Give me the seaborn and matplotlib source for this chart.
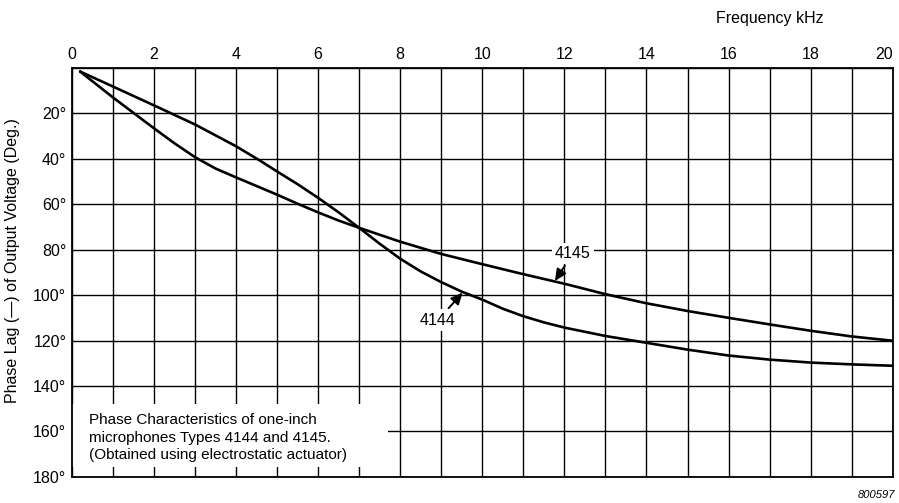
import pandas as pd
import matplotlib.pyplot as plt
import seaborn as sns
from matplotlib.patches import Rectangle

# Phase lag (kHz, degrees)
freq_4144 = [0.2, 1, 2, 3, 4, 4.6, 5, 5.5, 6, 6.5, 7, 7.5, 8, 8.5, 9, 9.5, 10, 10.5, 11, 11.5,
             12, 13, 14, 15, 16, 17, 18, 19, 20]
lag_4144 = [1.6, 8.2, 16.5, 24.9, 34.5, 41, 45.6, 51.2, 57.2, 63.6, 70.4, 77.4, 84, 89.6,
            94.3, 98.5, 102, 106, 109.3, 112, 114.3, 118, 121, 124, 126.6, 128.4, 129.7,
            130.5, 131.1]

freq_4145 = [0.2, 1, 2, 2.5, 3, 3.5, 4, 4.5, 5, 5.5, 6, 6.5, 7, 8, 9, 10, 11, 12, 13, 14,
             15, 16, 17, 18, 19, 20]
lag_4145 = [1.6, 13, 26.6, 33.2, 39.3, 44.3, 48.2, 52, 55.8, 59.8, 63.6, 67.2, 70.4, 76.5,
            81.9, 86.4, 90.8, 95, 99.6, 103.6, 107, 110, 112.9, 115.7, 118.2, 120.1]

x_ticks = list(range(0, 21))
x_labels = [str(v) if v % 2 == 0 else "" for v in x_ticks]
y_ticks = list(range(0, 181, 20))
y_labels = ["" if v == 0 else f"{v}°" for v in y_ticks]

note = ("Phase Characteristics of one-inch\n"
        "microphones Types 4144 and 4145.\n"
        "(Obtained using electrostatic actuator)")

sns.set_style("white")
plt.rcParams["font.family"] = ["Liberation Sans", "DejaVu Sans"]
plt.rcParams["text.color"] = "black"
plt.rcParams["axes.labelcolor"] = "black"

fig = plt.figure(figsize=(8.99, 5.03), dpi=100)
ax = fig.add_axes([0.080, 0.052, 0.913, 0.813])

sns.lineplot(x=freq_4144, y=lag_4144, color="black", lw=1.9, ax=ax, zorder=3)
sns.lineplot(x=freq_4145, y=lag_4145, color="black", lw=1.9, ax=ax, zorder=3)

ax.set_xlim(0, 20)
ax.set_ylim(180, 0)
ax.xaxis.tick_top()
ax.set_xticks(x_ticks)
ax.set_xticklabels(x_labels, fontsize=11.5, color="black")
ax.get_xticklabels()[-1].set_horizontalalignment("right")
ax.get_xticklabels()[-1].set_x(20.1)
ax.set_yticks(y_ticks)
ax.set_yticklabels(y_labels, fontsize=11.5, color="black")
ax.tick_params(length=0, pad=4)
ax.set_axisbelow(True)
ax.grid(True, color="black", lw=1.0)
for s in ax.spines.values():
    s.set_color("black")
    s.set_linewidth(1.3)

ax.set_xlabel("")
ax.set_ylabel("Phase Lag (—) of Output Voltage (Deg.)", fontsize=11.5)
ax.yaxis.set_label_coords(-0.063, 0.53)

# white box for the caption, hides the grid behind it
ax.add_patch(Rectangle((0, 148), 7.7, 27.5, facecolor="white", edgecolor="none", zorder=1))
ax.text(0.42, 162.7, note, fontsize=11, va="center", ha="left", linespacing=1.28, zorder=4)

arrow = dict(arrowstyle="-|>,head_length=0.6,head_width=0.28", color="black", lw=1.4,
             shrinkA=1, shrinkB=0)
ax.annotate("4145", xy=(11.77, 93.8), xytext=(12.2, 81.8), ha="center", va="center",
            fontsize=11.5, arrowprops=arrow, zorder=4,
            bbox=dict(boxstyle="square,pad=0.2", fc="white", ec="none"))
ax.annotate("4144", xy=(9.52, 98.9), xytext=(8.92, 111), ha="center", va="center",
            fontsize=11.5, arrowprops=arrow, zorder=4,
            bbox=dict(boxstyle="square,pad=0.2", fc="white", ec="none"))

fig.text(770 / 899, 1 - 18 / 503, "Frequency kHz", ha="center", va="center", fontsize=11.5)
fig.text(895 / 899, 1 - 495 / 503, "800597", ha="right", va="center",
         fontsize=8, style="italic")

fig.savefig("out.png", dpi=100)
